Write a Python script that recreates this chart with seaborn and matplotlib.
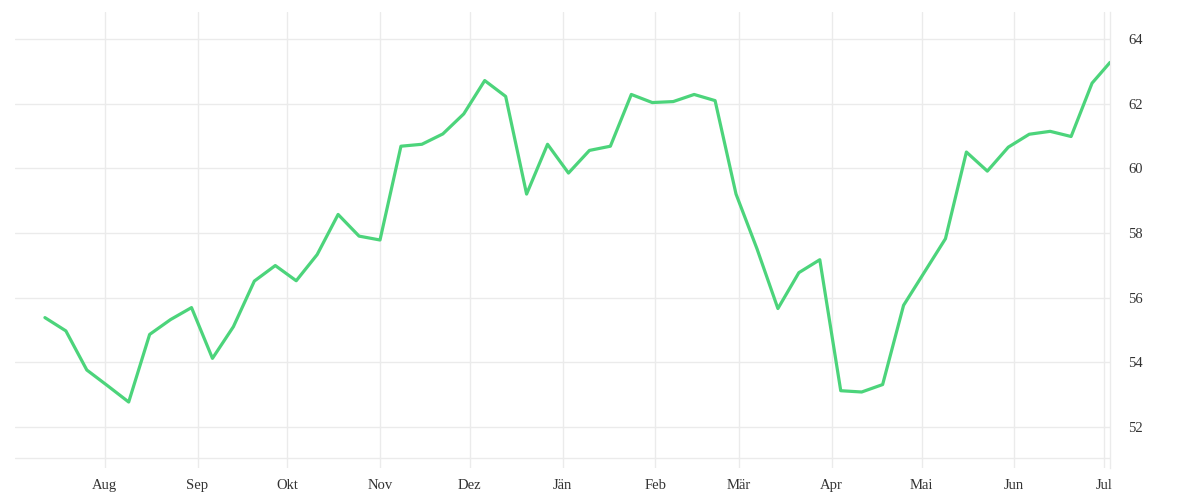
import pandas as pd
import matplotlib.pyplot as plt
import seaborn as sns

# weekly values
dates = list(pd.date_range("2022-07-12", periods=51, freq="7D")) + [pd.Timestamp("2023-07-03")]
values = [55.38, 54.97, 53.76, 53.27, 52.77, 54.86, 55.32, 55.69, 54.12, 55.10,
          56.51, 56.99, 56.52, 57.33, 58.57, 57.90, 57.78, 60.68, 60.74, 61.06,
          61.68, 62.71, 62.22, 59.20, 60.74, 59.85, 60.55, 60.68, 62.28, 62.03,
          62.06, 62.28, 62.09, 59.20, 57.51, 55.66, 56.77, 57.17, 53.12, 53.08,
          53.31, 55.76, 56.79, 57.82, 60.50, 59.91, 60.65, 61.05, 61.14, 60.98,
          62.63, 63.27]
month_starts = pd.date_range("2022-08-01", "2023-07-01", freq="MS")
month_labels = ["Aug", "Sep", "Okt", "Nov", "Dez", "Jän", "Feb", "Mär", "Apr", "Mai", "Jun", "Jul"]
y_ticks = [52, 54, 56, 58, 60, 62, 64]

df = pd.DataFrame({"date": dates, "value": values})

sns.set_style("white")
plt.rcParams["font.family"] = ["Liberation Serif", "DejaVu Serif"]

fig = plt.figure(figsize=(12, 5), dpi=100)
ax = fig.add_axes([15 / 1200, 32 / 500, 1095 / 1200, 456 / 500])

grid_c = "#ebebeb"
for d in month_starts:
    ax.axvline(d, color=grid_c, lw=1, zorder=0)
for v in y_ticks:
    ax.axhline(v, color=grid_c, lw=1, zorder=0)
ax.axhline(51.04, color=grid_c, lw=1, zorder=0)

sns.lineplot(data=df, x="date", y="value", color="#4cd47b", lw=2.3, ax=ax, zorder=3)

ax.set_xlim(pd.Timestamp("2022-07-02"), pd.Timestamp("2023-07-03"))
ax.set_ylim(50.73, 64.83)
ax.set_xticks(month_starts)
ax.set_xticklabels(month_labels)
ax.set_yticks(y_ticks)
ax.set_yticklabels([str(v) for v in y_ticks])
ax.yaxis.tick_right()
ax.tick_params(axis="both", length=0, labelsize=10.5, colors="#333333")
ax.tick_params(axis="y", pad=13)
ax.tick_params(axis="x", pad=8)
ax.set_xlabel("")
ax.set_ylabel("")
for s in ["top", "left", "bottom"]:
    ax.spines[s].set_visible(False)
ax.spines["right"].set_color(grid_c)
ax.spines["right"].set_linewidth(1)

fig.savefig("out.png", dpi=100)
